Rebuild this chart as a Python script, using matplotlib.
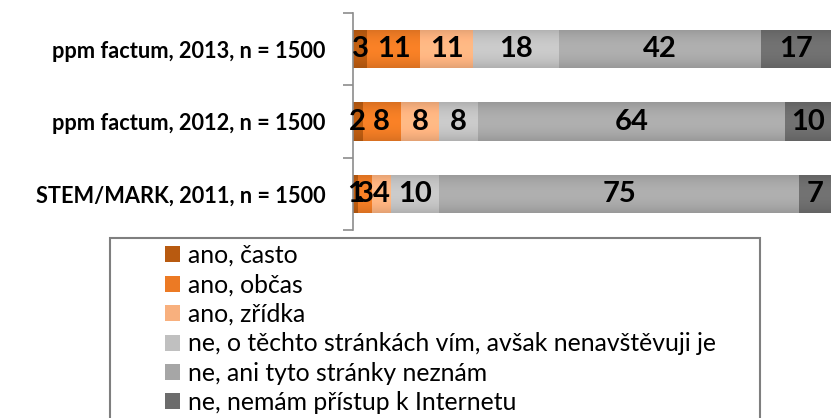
import numpy as np
import matplotlib.pyplot as plt
from matplotlib.patches import Rectangle
from matplotlib.colors import to_rgb

# -----------------------------
# Data
# -----------------------------
surveys = ["STEM/MARK, 2011, n = 1500",
           "ppm factum, 2012, n = 1500",
           "ppm factum, 2013, n = 1500"]

answers = ["ano, často",
           "ano, občas",
           "ano, zřídka",
           "ne, o těchto stránkách vím, avšak nenavštěvuji je",
           "ne, ani tyto stránky neznám",
           "ne, nemám přístup k Internetu"]

# rows follow the survey order above
often = [1, 2, 3]
sometimes = [3, 8, 11]
rarely = [4, 8, 11]
know_not_visit = [10, 8, 18]
dont_know = [75, 64, 42]
no_internet = [7, 10, 17]

values = [often, sometimes, rarely, know_not_visit, dont_know, no_internet]
colors = ["#B85A10", "#EC7A24", "#F8B07E", "#C0C0C0", "#A6A6A6", "#6C6C6C"]

plt.rcParams['font.family'] = ['Lato', 'DejaVu Sans']


def shade(bar, col):
    # soft vertical gradient: a bit darker at top and bottom edges
    c = np.array(to_rgb(col))
    t = np.linspace(-1, 1, 64)[:, None]
    f = 1.06 - 0.14 * t ** 2
    img = np.clip(c[None, :] * f, 0, 1)[:, None, :]
    x0, y0 = bar.get_x(), bar.get_y()
    im = ax.imshow(img, extent=(x0, x0 + bar.get_width(), y0, y0 + bar.get_height()),
                   aspect='auto', zorder=bar.get_zorder() + 0.1, interpolation='bilinear')
    im.set_clip_path(bar)


# -----------------------------
# Plot
# -----------------------------
W, H = 831, 418
fig = plt.figure(figsize=(W / 100, H / 100), dpi=100)
ax = fig.add_axes([353 / W, 1 - 230 / H, 1 - 353 / W, 217 / H])

y = np.arange(len(surveys))
left = np.zeros(len(surveys))
for vals, col, name in zip(values, colors, answers):
    bars = ax.barh(y, vals, left=left, height=0.53, color=col, label=name)
    for b in bars:
        shade(b, col)
    txt = ax.bar_label(bars, labels=[str(v) for v in vals], label_type='center',
                       fontsize=21, fontweight='bold', color='black')
    for t in txt:
        t.set_zorder(5)
    left += np.array(vals)

ax.set_xlim(0, 99.6)
ax.set_ylim(-0.5, 2.5)
ax.set_xticks([])
ax.set_yticks(y)
ax.set_yticklabels(surveys, fontsize=15.7, fontweight='bold')
ax.set_yticks([-0.5, 0.5, 1.5, 2.5], minor=True)
ax.tick_params(axis='y', which='major', length=0, pad=20)
ax.tick_params(axis='y', which='minor', length=7, width=1.2, color='#8c8c8c')

for side in ['top', 'right', 'bottom']:
    ax.spines[side].set_visible(False)
ax.spines['left'].set_color('#8c8c8c')
ax.spines['left'].set_linewidth(1.2)

# legend frame drawn separately so it can run off the bottom edge
fig.patches.append(Rectangle((110 / W, 1 - 440 / H), 650 / W, 202 / H,
                             transform=fig.transFigure, fill=False,
                             edgecolor='#7f7f7f', linewidth=1.5))

handles, labels = ax.get_legend_handles_labels()
fig.legend(handles, labels, loc='upper left',
           bbox_to_anchor=(165 / W, 1 - 244 / H),
           frameon=False, fontsize=17.8, borderpad=0, borderaxespad=0,
           handlelength=0.62, handleheight=0.62, handletextpad=0.3,
           labelspacing=0.26)

plt.savefig("out.png", dpi=100)
